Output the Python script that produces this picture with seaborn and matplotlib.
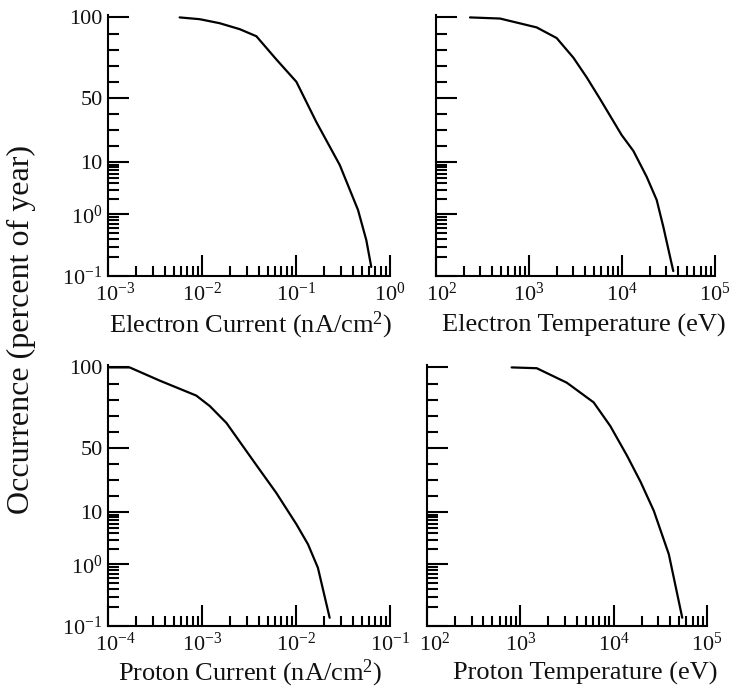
import numpy as np
import pandas as pd
import matplotlib
matplotlib.use("Agg")
import matplotlib.pyplot as plt
import matplotlib.transforms as mtransforms
import seaborn as sns
from matplotlib.ticker import FixedLocator, FixedFormatter, LogLocator, NullFormatter

# Electron current (nA/cm^2) vs occurrence (percent of year)
e_cur_x = [0.00578, 0.00944, 0.01542, 0.0252, 0.0379, 0.0618, 0.101,
           0.164, 0.292, 0.457, 0.560, 0.632]
e_cur_y = [100, 98.9, 96.4, 92.7, 88.3, 73.9, 60, 35.2, 8.9, 1.21, 0.38, 0.14]

# Electron temperature (eV)
e_temp_x = [232, 488, 1208, 1982, 3000, 4170, 5800, 9900, 13250, 18400,
            23600, 27800, 35600]
e_temp_y = [100, 99.3, 93.8, 87.2, 75, 62.8, 49.4, 27, 17.1, 5.3, 1.89, 0.63, 0.12]

# Proton current (nA/cm^2)
p_cur_x = [1.04e-4, 1.70e-4, 3.55e-4, 8.7e-4, 1.21e-3, 1.82e-3, 3.78e-3,
           6.18e-3, 0.0101, 0.0134, 0.0171, 0.0228]
p_cur_y = [100, 100, 91.8, 82.5, 76, 65.5, 39.4, 22, 5.9, 2.44, 0.88, 0.136]

# Proton temperature (eV)
p_temp_x = [807, 1500, 3150, 6100, 9200, 13900, 19400, 26900, 39000, 54300]
p_temp_y = [100, 99.5, 90.5, 78.3, 63.6, 45.2, 29, 11, 1.56, 0.136]

x_labels = ["Electron Current (nA/cm$^2$)", "Electron Temperature (eV)",
            "Proton Current (nA/cm$^2$)", "Proton Temperature (eV)"]
x_decades = [(-3, 0), (2, 5), (-4, -1), (2, 5)]

y_major = [0.1, 1, 10, 50, 100]
y_major_labels = ["10$^{-1}$", "10$^{0}$", "10", "50", "100"]
y_minor = [0.2, 0.3, 0.4, 0.5, 0.6, 0.7, 0.8, 0.9,
           2, 3, 4, 5, 6, 7, 8, 9,
           20, 30, 40, 60, 70, 80, 90]

# Occurrence axis: log below 10 %, linear from 10 % to 100 %
LOG_LO = 61.7   # 0.1 -> 1
LOG_HI = 52.0   # 1 -> 10
LIN = 1.611     # per percent above 10


def occ_fwd(p):
    p = np.clip(np.asarray(p, dtype=float), 1e-9, None)
    with np.errstate(all="ignore"):
        lg = np.log10(p)
        return np.where(p <= 1, LOG_LO * (lg + 1),
                        np.where(p <= 10, LOG_LO + LOG_HI * lg,
                                 LOG_LO + LOG_HI + (p - 10) * LIN))


def occ_inv(v):
    v = np.asarray(v, dtype=float)
    b1, b2 = LOG_LO, LOG_LO + LOG_HI
    with np.errstate(all="ignore"):
        return np.where(v <= b1, 10 ** (np.minimum(v, b1) / LOG_LO - 1),
                        np.where(v <= b2, 10 ** ((np.clip(v, b1, b2) - b1) / LOG_HI),
                                 10 + (v - b2) / LIN))


sns.set_style("ticks")
plt.rcParams["font.family"] = ["Liberation Serif", "DejaVu Serif"]
plt.rcParams["mathtext.fontset"] = "custom"
plt.rcParams["mathtext.rm"] = "Liberation Serif"
plt.rcParams["mathtext.it"] = "Liberation Serif:italic"
plt.rcParams["mathtext.bf"] = "Liberation Serif:bold"

W, H = 730, 692
fig = plt.figure(figsize=(W / 100, H / 100), dpi=100)

# axes boxes in pixels: left, right, top, bottom
boxes = [(108, 390, 15, 276), (436, 715, 15, 276),
         (108, 390, 365, 626), (427, 707, 365, 626)]
label_drop = [56, 56, 54, 54]          # spine to label baseline, pixels
label_x = [0.505, 0.530, 0.505, 0.564]  # label centre, axes fraction
first_shift = [7, 6, 7, 8]             # nudge of the leftmost x tick label, pixels
series = [(e_cur_x, e_cur_y), (e_temp_x, e_temp_y),
          (p_cur_x, p_cur_y), (p_temp_x, p_temp_y)]

for i, ((l, r, t, b), (xs, ys), lab, (d0, d1)) in enumerate(
        zip(boxes, series, x_labels, x_decades)):
    ax = fig.add_axes([l / W, 1 - b / H, (r - l) / W, (b - t) / H])
    df = pd.DataFrame({"x": xs, "y": ys})
    sns.lineplot(data=df, x="x", y="y", ax=ax, color="black", lw=1.6,
                 estimator=None, sort=False)
    ax.set_xscale("log")
    ax.set_yscale("function", functions=(occ_fwd, occ_inv))
    ax.set_xlim(10.0 ** d0, 10.0 ** d1)
    ax.set_ylim(0.1, 101.5)

    decades = list(range(d0, d1 + 1))
    ax.xaxis.set_major_locator(FixedLocator([10.0 ** d for d in decades]))
    ax.xaxis.set_major_formatter(FixedFormatter(["10$^{%d}$" % d for d in decades]))
    ax.xaxis.set_minor_locator(LogLocator(base=10, subs=np.arange(2, 10), numticks=50))
    ax.xaxis.set_minor_formatter(NullFormatter())

    ax.yaxis.set_major_locator(FixedLocator(y_major))
    ax.yaxis.set_major_formatter(FixedFormatter(y_major_labels))
    ax.yaxis.set_minor_locator(FixedLocator(y_minor))
    ax.yaxis.set_minor_formatter(NullFormatter())

    ax.tick_params(axis="both", which="both", direction="in", width=1.5,
                   color="black", labelsize=16, labelcolor="#111111")
    ax.tick_params(axis="both", which="major", length=15)
    ax.tick_params(axis="x", which="minor", length=7)
    ax.tick_params(axis="y", which="minor", length=8)
    ax.tick_params(axis="x", which="major", pad=5)
    ax.tick_params(axis="y", which="major", pad=4)
    if i % 2 == 1:
        ax.tick_params(axis="y", labelleft=False)

    first = ax.xaxis.get_major_ticks()[0].label1
    first.set_transform(first.get_transform() + mtransforms.ScaledTranslation(
        first_shift[i] / 100, 0, fig.dpi_scale_trans))

    for side in ("top", "right"):
        ax.spines[side].set_visible(False)
    for side in ("left", "bottom"):
        ax.spines[side].set_linewidth(1.5)
        ax.spines[side].set_color("black")

    ax.set_ylabel("")
    ax.set_xlabel(lab, fontsize=19, color="#111111")
    ax.xaxis.set_label_coords(label_x[i], -label_drop[i] / (b - t))
    ax.xaxis.label.set_va("baseline")

fig.text(21 / W, 1 - 329 / H, "Occurrence (percent of year)", rotation=90,
         ha="center", va="center", fontsize=23, color="#111111")

fig.savefig("out.png", dpi=100)
